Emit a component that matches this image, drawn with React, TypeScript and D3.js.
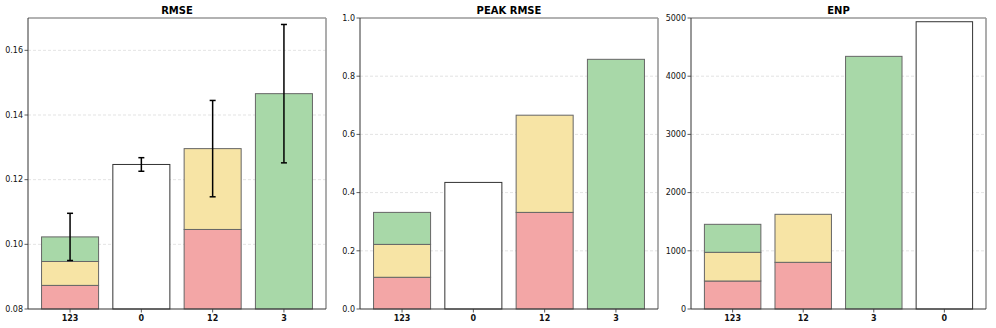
import * as d3 from 'd3';

// ── Data ──────────────────────────────────────────────────────────────
// cumulative top of each stacked segment (null = segment absent)
const rmseCats = ['123', '0', '12', '3'];
const rmseRed = [0.0873, null, 0.1046, null];
const rmseYellow = [0.0947, null, 0.1296, null];
const rmseGreen = [0.1023, null, null, 0.1466];
const rmseWhite = [null, 0.1247, null, null];
const rmseErr = [0.0073, 0.0021, 0.0149, 0.0214];
const rmseTicks = [0.08, 0.1, 0.12, 0.14, 0.16];

const peakCats = ['123', '0', '12', '3'];
const peakRed = [0.109, null, 0.332, null];
const peakYellow = [0.222, null, 0.666, null];
const peakGreen = [0.332, null, null, 0.858];
const peakWhite = [null, 0.435, null, null];
const peakTicks = [0, 0.2, 0.4, 0.6, 0.8, 1.0];

const enpCats = ['123', '12', '3', '0'];
const enpRed = [481, 802, null, null];
const enpYellow = [974, 1627, null, null];
const enpGreen = [1455, null, 4341, null];
const enpWhite = [null, null, null, 4936];
const enpTicks = [0, 1000, 2000, 3000, 4000, 5000];

const COLORS = { red: '#f3a6a6', yellow: '#f7e4a5', green: '#a8d8a8', white: '#ffffff' };

type Panel = {
  title: string;
  cats: string[];
  layers: { key: keyof typeof COLORS; vals: (number | null)[] }[];
  err?: number[];
  domain: [number, number];
  ticks: number[];
  fmt: (v: number) => string;
  left: number;
  right: number;
};

const panels: Panel[] = [
  {
    title: 'RMSE', cats: rmseCats,
    layers: [{ key: 'red', vals: rmseRed }, { key: 'yellow', vals: rmseYellow }, { key: 'green', vals: rmseGreen }, { key: 'white', vals: rmseWhite }],
    err: rmseErr, domain: [0.08, 0.17], ticks: rmseTicks, fmt: d3.format('.2f'), left: 28, right: 326
  },
  {
    title: 'PEAK RMSE', cats: peakCats,
    layers: [{ key: 'red', vals: peakRed }, { key: 'yellow', vals: peakYellow }, { key: 'green', vals: peakGreen }, { key: 'white', vals: peakWhite }],
    domain: [0, 1], ticks: peakTicks, fmt: d3.format('.1f'), left: 360, right: 658
  },
  {
    title: 'ENP', cats: enpCats,
    layers: [{ key: 'red', vals: enpRed }, { key: 'yellow', vals: enpYellow }, { key: 'green', vals: enpGreen }, { key: 'white', vals: enpWhite }],
    domain: [0, 5000], ticks: enpTicks, fmt: d3.format('d'), left: 691, right: 986
  }
];

const TOP = 18;
const BOTTOM = 309;
const FONT = 'DejaVu Sans, sans-serif';

const BarPanel = ({ p }: { p: Panel }) => {
  const x = d3.scaleBand().domain(p.cats).range([p.left, p.right]).paddingInner(0.2).paddingOuter(0.19);
  const y = d3.scaleLinear().domain(p.domain).range([BOTTOM, TOP]);

  const bars: JSX.Element[] = [];
  const tops: number[] = [];
  p.cats.forEach((c, i) => {
    let base = p.domain[0];
    p.layers.forEach(l => {
      const v = l.vals[i];
      if (v == null) return;
      bars.push(
        <rect key={`${c}-${l.key}`} x={x(c)} y={y(v)} width={x.bandwidth()} height={y(base) - y(v)}
          fill={COLORS[l.key]} stroke={l.key === 'white' ? '#333' : '#666'} strokeWidth={1} />
      );
      base = v;
    });
    tops.push(base);
  });

  return (
    <g>
      {/* grid */}
      {p.ticks.filter(t => t > p.domain[0] && t < p.domain[1]).map(t => (
        <line key={`g${t}`} x1={p.left} x2={p.right} y1={y(t)} y2={y(t)} stroke="#dcdcdc" strokeWidth={0.8} strokeDasharray="3 2" />
      ))}
      {bars}
      {p.err && p.cats.map((c, i) => {
        const cx = x(c)! + x.bandwidth() / 2;
        const lo = y(tops[i] - p.err![i]);
        const hi = y(tops[i] + p.err![i]);
        return (
          <g key={`e${c}`} stroke="#000" strokeWidth={1.5}>
            <line x1={cx} x2={cx} y1={lo} y2={hi} />
            <line x1={cx - 3} x2={cx + 3} y1={lo} y2={lo} />
            <line x1={cx - 3} x2={cx + 3} y1={hi} y2={hi} />
          </g>
        );
      })}
      {/* spines */}
      <line x1={p.left} x2={p.right} y1={TOP} y2={TOP} stroke="#999" strokeWidth={1.6} />
      <line x1={p.right} x2={p.right} y1={TOP} y2={BOTTOM} stroke="#999" strokeWidth={1.6} />
      <line x1={p.left} x2={p.left} y1={TOP} y2={BOTTOM} stroke="#333" strokeWidth={1} />
      <line x1={p.left} x2={p.right} y1={BOTTOM} y2={BOTTOM} stroke="#333" strokeWidth={1} />
      {/* y ticks */}
      {p.ticks.map(t => (
        <g key={`t${t}`}>
          <line x1={p.left - 3.5} x2={p.left} y1={y(t)} y2={y(t)} stroke="#333" strokeWidth={0.8} />
          <text x={p.left - 5} y={y(t)} dy="0.35em" textAnchor="end" fontSize={8} fill="#111" fontFamily={FONT}>{p.fmt(t)}</text>
        </g>
      ))}
      {/* x ticks */}
      {p.cats.map(c => {
        const cx = x(c)! + x.bandwidth() / 2;
        return (
          <g key={`x${c}`}>
            <line x1={cx} x2={cx} y1={BOTTOM} y2={BOTTOM + 3.5} stroke="#333" strokeWidth={0.8} />
            <text x={cx} y={321} textAnchor="middle" fontSize={8} fontWeight="bold" fill="#111" fontFamily={FONT}>{c}</text>
          </g>
        );
      })}
      <text x={(p.left + p.right) / 2} y={14} textAnchor="middle" fontSize={10} fontWeight="bold" fill="#000" fontFamily={FONT}>{p.title}</text>
    </g>
  );
};

export default function App() {
  return (
    <svg width={996} height={328} style={{ position: 'absolute', left: 0, top: 0, background: '#fff' }}>
      <rect width={996} height={328} fill="#fff" />
      {panels.map(p => <BarPanel key={p.title} p={p} />)}
    </svg>
  );
}
